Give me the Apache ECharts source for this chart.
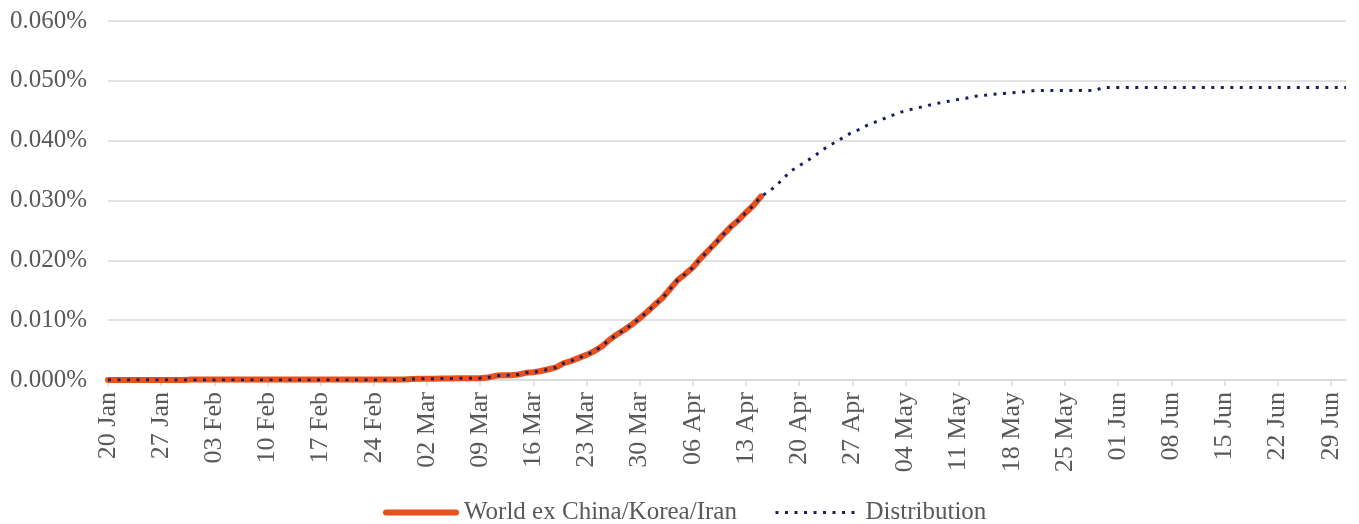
<!DOCTYPE html>
<html>
<head>
<meta charset="utf-8">
<script src="https://cdn.jsdelivr.net/npm/echarts@6/dist/echarts.min.js"></script>
<style>
html,body{margin:0;padding:0;background:#fff;}
#chart{width:1359px;height:524px;}
</style>
</head>
<body>
<div id="chart"></div>
<script>
// ---- data (values in percent) ----
var startDate = [2020, 0, 20];   // 20 Jan 2020
var dayCount = 164;              // 20 Jan .. 01 Jul
var monthNames = ['Jan','Feb','Mar','Apr','May','Jun','Jul','Aug','Sep','Oct','Nov','Dec'];

var seriesNames = ['World ex China/Korea/Iran', 'Distribution'];

// World ex China/Korea/Iran, 20 Jan .. 15 Apr
var actual = [
  0,0,0,0,0,0,0,0,0,0,0,
  0.0001,0.0001,0.0001,0.0001,0.0001,0.0001,0.0001,0.0001,0.0001,0.0001,
  0.0001,0.0001,0.0001,0.0001,0.0001,0.0001,0.0001,0.0001,0.0001,0.0001,
  0.0001,0.0001,0.0001,0.0001,0.0001,0.0001,0.0001,0.0001,0.0001,
  0.00015,0.0002,0.0002,0.0002,0.00025,0.00025,0.0003,0.0003,0.0003,0.0003,
  0.0004,0.0007,0.0008,0.0008,0.0009,0.0012,0.0013,0.0015,0.0018,0.0021,
  0.0028,0.0032,0.0037,0.0042,0.0048,0.0056,0.0067,0.0076,0.0084,0.0093,
  0.0103,0.0114,0.0126,0.0137,0.0152,0.0167,0.0177,0.0188,0.0203,0.0216,
  0.0229,0.0243,0.0256,0.0267,0.0280,0.0292,0.0307
];

// Distribution, 20 Jan .. 01 Jul
var distribution = [
  0,0,0,0,0,0,0,0,0,0,0,0,0,0,0,0,0,0,0,0,
  0,0,0,0,0,0,0,0,0,0,0,0,0,0,0,0,0,0,0,
  0.0001,0.00015,0.0002,0.0002,0.0002,0.00025,0.00025,0.0003,0.0003,0.0003,0.0003,
  0.0004,0.0007,0.0008,0.0008,0.0009,0.0012,0.0013,0.0015,0.0018,0.0021,
  0.0028,0.0032,0.0037,0.0042,0.0048,0.0056,0.0067,0.0076,0.0084,0.0093,
  0.0103,0.0114,0.0126,0.0137,0.0152,0.0167,0.0177,0.0188,0.0203,0.0216,
  0.0229,0.0243,0.0256,0.0267,0.0280,0.0292,0.0307,
  0.0315,0.0325,0.0338,0.0350,0.0358,0.0366,0.0374,0.0384,0.0392,0.0399,
  0.0407,0.0414,0.0419,0.0426,0.0431,0.0436,0.0441,0.0446,0.0450,0.0453,
  0.0456,0.0459,0.0462,0.0464,0.0467,0.0469,0.0471,0.0474,0.0475,0.0477,
  0.0478,0.0479,0.0480,0.0481,0.0482,
  0.0484,0.0484,0.0484,0.0484,0.0484,0.0484,0.0484,0.0484,0.0484,
  0.0489,0.0489,0.0489,0.0489,0.0489,0.0489,0.0489,0.0489,0.0489,0.0489,
  0.0489,0.0489,0.0489,0.0489,0.0489,0.0489,0.0489,0.0489,0.0489,0.0489,
  0.0489,0.0489,0.0489,0.0489,0.0489,0.0489,0.0489,0.0489,0.0489,0.0489,
  0.0489,0.0489,0.0489
];

var yMin = 0, yMax = 0.06, yStep = 0.01;
var tickEvery = 7;

// ---- build categories ----
var categories = [];
for (var i = 0; i < dayCount; i++) {
  var d = new Date(startDate[0], startDate[1], startDate[2] + i);
  var dd = d.getDate();
  categories.push((dd < 10 ? '0' + dd : '' + dd) + ' ' + monthNames[d.getMonth()]);
}

var FONT = '"Liberation Serif", "Times New Roman", serif';
var TEXT = '#595959';
var GRID = '#D9D9D9';
var ORANGE = '#EA501B';
var NAVY = '#1C1F5E';

function legendCfg(name, left, width) {
  return {
    data: [name], left: left, top: 495,
    itemWidth: width, itemHeight: 14,
    itemStyle: {opacity: 0},
    lineStyle: {width: 'inherit'},
    textStyle: {fontFamily: FONT, fontSize: 25, color: TEXT, padding: [0, 0, 0, 3]}
  };
}

var chart = echarts.init(document.getElementById('chart'), null, {renderer: 'canvas'});
chart.setOption({
  animation: false,
  backgroundColor: '#ffffff',
  grid: {left: 108, right: 13, top: 21, bottom: 144, containLabel: false},
  legend: [legendCfg(seriesNames[0], 378, 70), legendCfg(seriesNames[1], 769, 82)],
  xAxis: {
    type: 'category',
    data: categories,
    boundaryGap: false,
    axisLine: {lineStyle: {color: GRID, width: 1.5}},
    axisTick: {show: true, interval: tickEvery - 1, length: 6, lineStyle: {color: GRID, width: 1.5}},
    axisLabel: {
      interval: tickEvery - 1, rotate: 90, margin: 12,
      fontFamily: FONT, fontSize: 26, color: TEXT
    },
    splitLine: {show: false}
  },
  yAxis: {
    type: 'value',
    min: yMin, max: yMax, interval: yStep,
    axisLine: {show: false},
    axisTick: {show: false},
    axisLabel: {
      margin: 21, fontFamily: FONT, fontSize: 25, color: TEXT,
      formatter: function (v) { return v.toFixed(3) + '%'; }
    },
    splitLine: {lineStyle: {color: GRID, width: 1.5}}
  },
  series: [
    {
      name: seriesNames[0], type: 'line', data: actual,
      symbol: 'none', showSymbol: false,
      lineStyle: {color: ORANGE, width: 6, cap: 'round', join: 'round'},
      itemStyle: {color: ORANGE},
      z: 2
    },
    {
      name: seriesNames[1], type: 'line', data: distribution,
      symbol: 'none', showSymbol: false,
      lineStyle: {color: NAVY, width: 3, type: [3, 6.5], cap: 'butt'},
      itemStyle: {color: NAVY},
      z: 3
    }
  ]
});
</script>
</body>
</html>
